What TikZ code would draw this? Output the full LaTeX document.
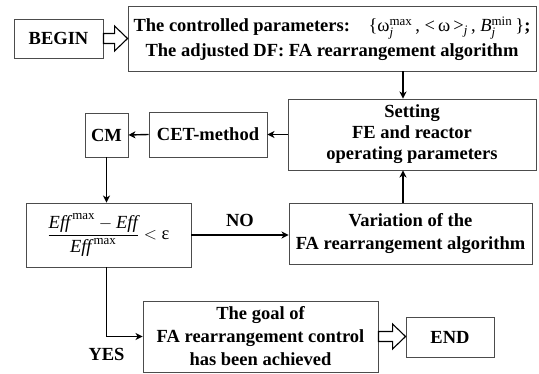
\documentclass[tikz,border=0pt]{standalone}
\usepackage{amsmath}
\usepackage{fontspec}
\setmainfont{Liberation Serif}
\usetikzlibrary{arrows.meta,calc}

\tikzset{
  box/.style={draw=black!70,line width=0.9pt,fill=white,inner sep=0pt,align=center,
    font=\fontsize{18.5}{23}\selectfont\bfseries},
  lbl/.style={font=\fontsize{18.5}{23}\selectfont\bfseries,inner sep=0pt},
  flow/.style={line width=1.4pt,-{Stealth[length=7pt,width=7pt,inset=2pt]}},
  hollow/.style={draw=black,line width=1.1pt,fill=white,line join=miter},
}
\newcommand\Eff{\textnormal{\itshape Eff}}
% fat open arrow from the east side of #1 to the west side of #2
\newcommand\hollowarrow[2]{%
  \draw[hollow] let \p1=(#1.east), \p2=(#2.west) in
    (\x1,\y1+5) -- (\x2-13,\y1+5) -- (\x2-13,\y1+12.5) -- (\x2,\y1)
    -- (\x2-13,\y1-12.5) -- (\x2-13,\y1-5) -- (\x1,\y1-5) -- cycle;}

\begin{document}
\begin{tikzpicture}[x=1pt,y=-1pt]
    \useasboundingbox (0,0) rectangle (539,374);
    \coordinate (axis) at (403,0);   % common vertical of the right column arrows
    % top row
    \node[box,minimum width=408,minimum height=65,font=\fontsize{18.5}{25}\selectfont\bfseries] (params) at (332,38.5)
      {The controlled parameters:\quad\textnormal{\{ω$^{\text{max}}_{\textit{j}}$\,, <\,ω\,>$_{\textit{j}}$\,, \textit{B}$^{\text{min}}_{\textit{j}}$\,\}};\\
       The adjusted DF: FA rearrangement algorithm};
    \node[box,minimum width=89,minimum height=39] (start) at (58.5,38.5) {BEGIN};
    % middle rows
    \node[box,minimum width=248,minimum height=71,font=\fontsize{18.5}{21}\selectfont\bfseries] (setting) at (412,134.5)
      {Setting\\FE and reactor\\operating parameters};
    \node[box,minimum width=118,minimum height=45] (cet) at (208,134.5) {CET-method};
    \node[box,minimum width=43,minimum height=44] (cm) at (106.5,135) {CM};
    \node[box,minimum width=165,minimum height=64] (eff) at (108.5,235)
      {$\displaystyle\frac{\Eff^{\,\textnormal{max}}-\Eff}{\Eff^{\,\textnormal{max}}}<\textnormal{ε}$};
    \node[box,minimum width=243,minimum height=61] (variation) at (410.5,233.5)
      {Variation of the\\FA rearrangement algorithm};
    % bottom row
    \node[box,minimum width=235,minimum height=71] (goal) at (260.5,336.5)
      {The goal of\\FA rearrangement control\\has been achieved};
    \node[box,minimum width=88,minimum height=40] (stop) at (450,337) {END};
    % connectors
    \hollowarrow{start}{params}
    \draw[flow] (params.south -| axis) -- (setting.north -| axis);
    \draw[flow] (setting.west) -- (cet.east);
    \draw[flow] (cet.west) -- (cm.east);
    \draw[flow] (cm.south) -- (cm.south |- eff.north);
    \draw[flow] (eff.east) -- node[lbl,above=8pt] {NO} (eff.east -| variation.west);
    \draw[flow] (variation.north -| axis) -- (setting.south -| axis);
    \draw[flow] (cm.south |- eff.south) |- node[lbl,pos=0.5,below=11pt] {YES} (goal.west);
    \hollowarrow{goal}{stop}
\end{tikzpicture}
\end{document}
